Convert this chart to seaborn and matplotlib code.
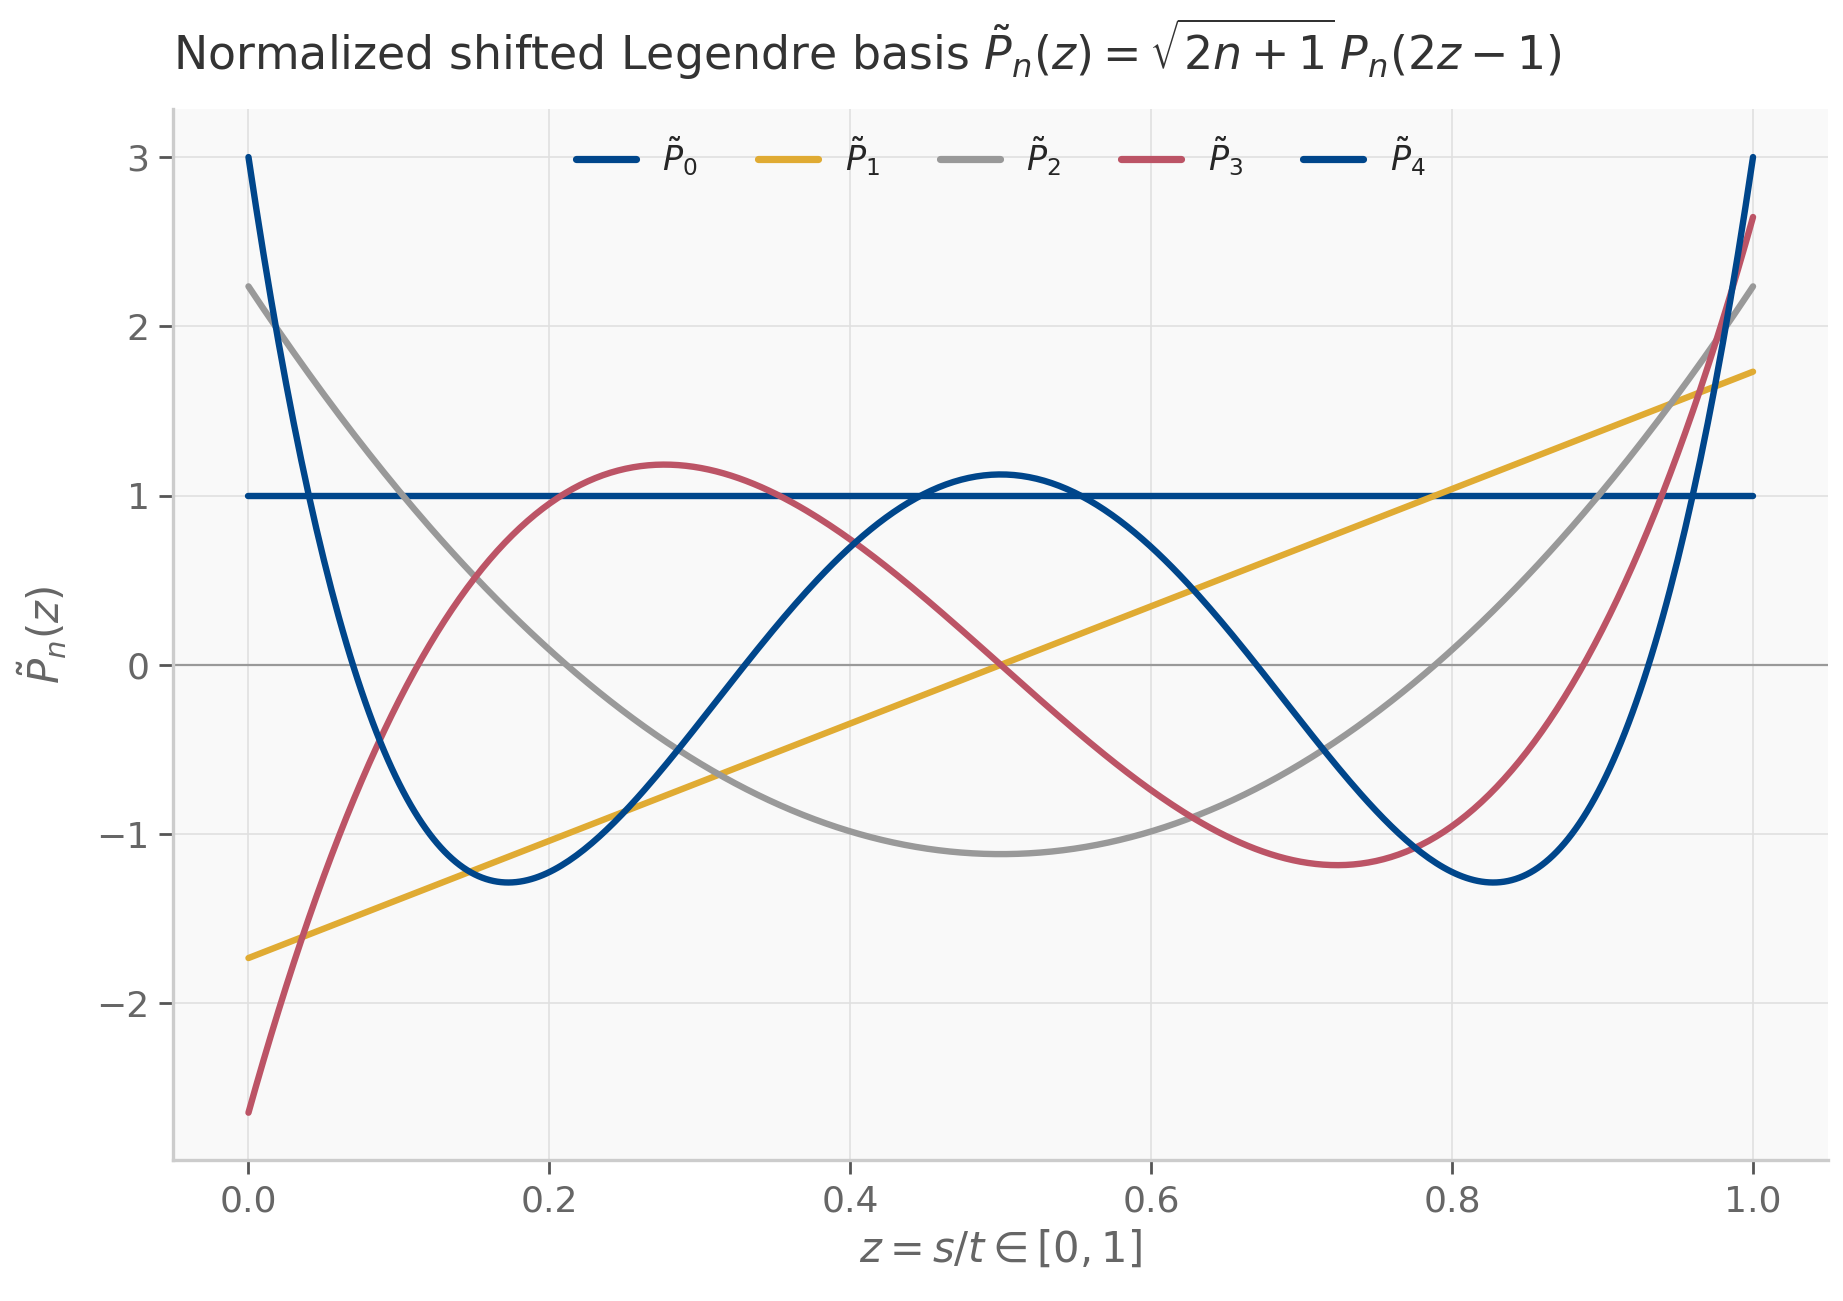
import numpy as np
import pandas as pd
import matplotlib
matplotlib.use("Agg")
import matplotlib.pyplot as plt
import seaborn as sns
from numpy.polynomial import legendre as L

# Data: degrees of the basis functions and their styling
degrees = [0, 1, 2, 3, 4]
labels = [r"$\tilde{P}_0$", r"$\tilde{P}_1$", r"$\tilde{P}_2$", r"$\tilde{P}_3$", r"$\tilde{P}_4$"]
colors = ["#00468B", "#E0AB33", "#999999", "#BC5466", "#00468B"]
z = np.linspace(0.0, 1.0, 400)

rows = []
for n, lab in zip(degrees, labels):
    c = np.zeros(n + 1)
    c[n] = 1.0
    vals = np.sqrt(2 * n + 1) * L.legval(2 * z - 1, c)
    rows.append(pd.DataFrame({"z": z, "P": vals, "basis": lab}))
df = pd.concat(rows, ignore_index=True)

sns.set_theme(style="whitegrid")
plt.rcParams["font.family"] = ["DejaVu Sans"]
plt.rcParams["mathtext.fontset"] = "dejavusans"

fig, ax = plt.subplots(figsize=(9.215, 6.505), dpi=200)
fig.subplots_adjust(left=0.094, right=0.992, top=0.916, bottom=0.108)
ax.set_facecolor("#F9F9F9")

sns.lineplot(data=df, x="z", y="P", hue="basis", palette=colors, linewidth=2.3,
             ax=ax, hue_order=labels, legend=True)

ax.axhline(0, color="#999999", linewidth=0.8, zorder=1)
ax.grid(True, color="#E0E0E0", linewidth=0.6)
ax.set_axisbelow(True)

for s in ["top", "right"]:
    ax.spines[s].set_visible(False)
for s in ["left", "bottom"]:
    ax.spines[s].set_color("#CCCCCC")
    ax.spines[s].set_linewidth(1.2)

ax.tick_params(axis="both", colors="#555555", labelcolor="#666666", labelsize=13,
               length=5, width=1.0, bottom=True, left=True)
ax.set_xticks([0.0, 0.2, 0.4, 0.6, 0.8, 1.0])
ax.set_yticks([-2, -1, 0, 1, 2, 3])
ax.set_yticklabels(["\u22122", "\u22121", "0", "1", "2", "3"])
ax.margins(x=0.05, y=0.05)

ax.set_xlabel(r"$z = s/t \in [0,1]$", fontsize=15, color="#666666")
ax.set_ylabel(r"$\tilde{P}_n(z)$", fontsize=15, color="#666666", labelpad=10)
ax.set_title(r"Normalized shifted Legendre basis $\tilde{P}_n(z) = \sqrt{2n+1}\,P_n(2z-1)$",
             loc="left", fontsize=16.5, color="#333333", pad=14)

leg = ax.legend(loc="upper center", ncol=5, frameon=False, fontsize=12,
                handlelength=1.8, columnspacing=1.8, bbox_to_anchor=(0.5, 1.005))
for line in leg.get_lines():
    line.set_linewidth(2.6)

fig.savefig("out.png", dpi=200)
